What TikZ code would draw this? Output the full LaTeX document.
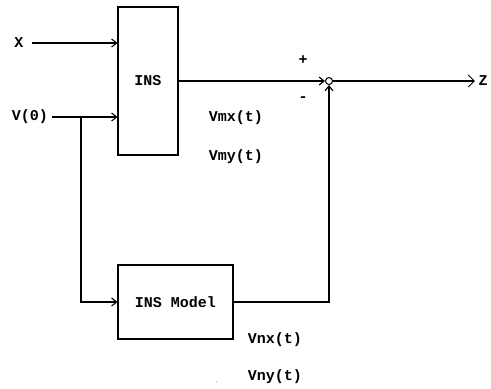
\documentclass[tikz,border=0pt]{standalone}
\usepackage{fontspec}
\setmonofont{Liberation Mono}
\usetikzlibrary{arrows.meta,positioning,calc}

\begin{document}
\begin{tikzpicture}[x=1pt,y=1pt,
  font=\fontsize{15}{17}\selectfont\ttfamily\bfseries,
  block/.style={draw,line width=1.1pt,inner sep=0pt},
  wire/.style={line width=1.1pt},
  feed/.style={wire,-{Straight Barb[length=5pt,width=8pt]}},
  outarr/.style={wire,-{Straight Barb[length=6pt,width=12pt,line width=1pt]}}]
  \useasboundingbox (0,0) rectangle (491,-389);
  % blocks
  \node[block,minimum width=60,minimum height=148] (ins) at (148,-81) {INS};
  \node[block,minimum width=115,minimum height=74] (model) at (175.5,-302) {INS Model};
  \node[draw,circle,line width=1pt,minimum size=7,inner sep=0pt] (sum) at (329,-81) {};
  % inputs
  \node (x) at (19,-43) {X};
  \node (v0) at (30,-117) {V(0)};
  \coordinate (split) at (81,-117);
  \draw[feed] (x.east) ++(5,0) -- (x.east -| ins.west);
  \draw[feed] (v0.east) -- (v0.east -| ins.west);
  \draw[feed] (split) |- (model.west);
  % outputs
  \draw[feed] (ins.east |- sum) -- (sum.west);
  \draw[feed] (model.east) -| (sum.south);
  \node (z) at (483,-81) {Z};
  \draw[outarr] (sum.east) -- (z.west);
  % signs and labels
  \node at (303,-60) {+};
  \node at (303,-99) {-};
  \node (vmx) at (236,-118) {Vmx(t)};
  \node (vmy) at (236,-157) {Vmy(t)};
  \node (vnx) at (275,-340) {Vnx(t)};
  \node (vny) at (275,-377) {Vny(t)};
  \node[font=\tiny] (dot) at (217,-382) {:};
\end{tikzpicture}
\end{document}
